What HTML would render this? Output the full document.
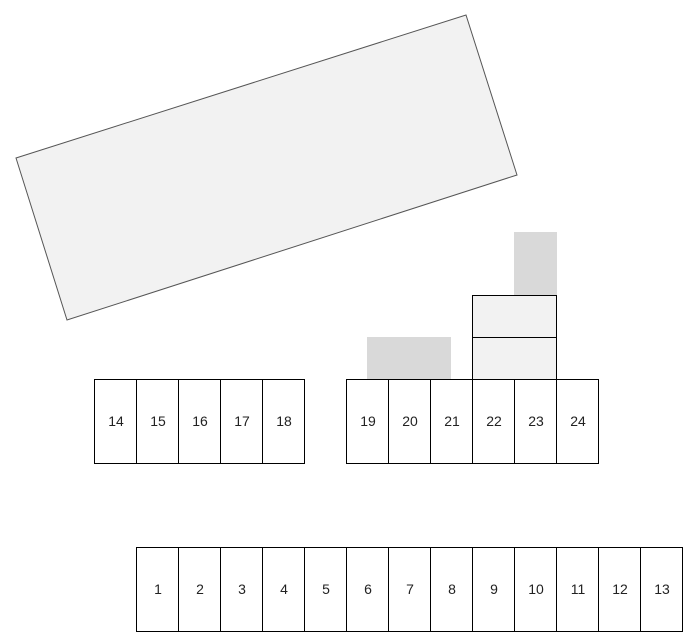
<!DOCTYPE html>
<html><head><style>
html,body{margin:0;padding:0;background:#fff;width:696px;height:640px;overflow:hidden}
svg text{font-family:"Liberation Sans","Noto Sans CJK JP",sans-serif;font-size:14px;fill:#222}
</style></head><body>
<svg width="696" height="640" viewBox="0 0 696 640" xmlns="http://www.w3.org/2000/svg">
<polygon points="16,158 466,15 517,175 67,320" fill="#f2f2f2" stroke="#555" stroke-width="1"/>
<rect x="367" y="337" width="84" height="42" fill="#d9d9d9"/>
<rect x="514" y="232" width="43" height="63" fill="#d9d9d9"/>
<rect x="472.5" y="295.5" width="84" height="42" fill="#f2f2f2" stroke="#000"/>
<rect x="472.5" y="337.5" width="84" height="42" fill="#f2f2f2" stroke="#000"/>
<g fill="#fff" stroke="#000" stroke-width="1">
<rect x="94.5" y="379.5" width="42" height="84"/><rect x="136.5" y="379.5" width="42" height="84"/><rect x="178.5" y="379.5" width="42" height="84"/><rect x="220.5" y="379.5" width="42" height="84"/><rect x="262.5" y="379.5" width="42" height="84"/>
<rect x="346.5" y="379.5" width="42" height="84"/><rect x="388.5" y="379.5" width="42" height="84"/><rect x="430.5" y="379.5" width="42" height="84"/><rect x="472.5" y="379.5" width="42" height="84"/><rect x="514.5" y="379.5" width="42" height="84"/><rect x="556.5" y="379.5" width="42" height="84"/>
<rect x="136.5" y="547.5" width="42" height="84"/><rect x="178.5" y="547.5" width="42" height="84"/><rect x="220.5" y="547.5" width="42" height="84"/><rect x="262.5" y="547.5" width="42" height="84"/><rect x="304.5" y="547.5" width="42" height="84"/><rect x="346.5" y="547.5" width="42" height="84"/><rect x="388.5" y="547.5" width="42" height="84"/><rect x="430.5" y="547.5" width="42" height="84"/><rect x="472.5" y="547.5" width="42" height="84"/><rect x="514.5" y="547.5" width="42" height="84"/><rect x="556.5" y="547.5" width="42" height="84"/><rect x="598.5" y="547.5" width="42" height="84"/><rect x="640.5" y="547.5" width="42" height="84"/>
</g>
<g text-anchor="middle">
<text x="116" y="426">14</text><text x="158" y="426">15</text><text x="200" y="426">16</text><text x="242" y="426">17</text><text x="284" y="426">18</text>
<text x="368" y="426">19</text><text x="410" y="426">20</text><text x="452" y="426">21</text><text x="494" y="426">22</text><text x="536" y="426">23</text><text x="578" y="426">24</text>
<text x="158" y="594">1</text><text x="200" y="594">2</text><text x="242" y="594">3</text><text x="284" y="594">4</text><text x="326" y="594">5</text><text x="368" y="594">6</text><text x="410" y="594">7</text><text x="452" y="594">8</text><text x="494" y="594">9</text><text x="536" y="594">10</text><text x="578" y="594">11</text><text x="620" y="594">12</text><text x="662" y="594">13</text>
</g>
</svg>
</body></html>
